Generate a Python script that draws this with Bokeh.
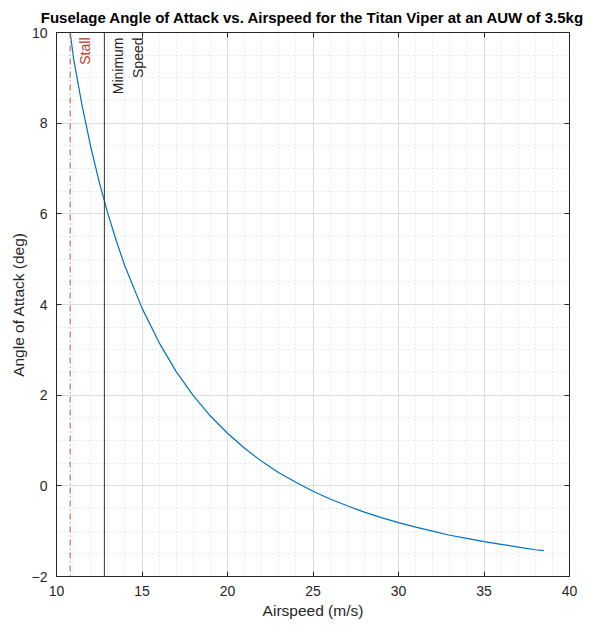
import math
from bokeh.plotting import figure
from bokeh.models import (Range1d, FixedTicker, LinearAxis, Label, Span, Title)
from bokeh.embed import file_html
from bokeh.resources import INLINE

# ---- data ----
airspeed = [10.8, 11.0, 11.5, 12.0, 12.5, 13.0, 13.5, 14.0, 15.0, 16.0, 17.0, 18.0,
            19.0, 20.0, 21.0, 22.0, 23.0, 24.0, 25.0, 26.0, 27.0, 28.0, 29.0, 30.0,
            31.0, 32.0, 33.0, 34.0, 35.0, 36.0, 37.0, 38.0, 38.5]
aoa = [10.0, 9.42, 8.38, 7.48, 6.70, 6.01, 5.40, 4.85, 3.92, 3.16, 2.52, 1.99,
       1.54, 1.16, 0.83, 0.54, 0.29, 0.08, -0.12, -0.29, -0.44, -0.58, -0.70, -0.81,
       -0.91, -1.00, -1.09, -1.16, -1.23, -1.29, -1.35, -1.41, -1.43]
stall_speed = 10.8
min_speed = 12.8
x_ticks = [10, 15, 20, 25, 30, 35, 40]
y_ticks = [-2, 0, 2, 4, 6, 8, 10]

FONT = "Liberation Sans"
TXT = "#262626"

p = figure(width=613, height=626, output_backend="svg", toolbar_location=None,
           x_range=Range1d(10, 40), y_range=Range1d(-2, 10),
           min_border_left=56, min_border_right=44, min_border_top=31,
           min_border_bottom=50)
p.title = Title(text="Fuselage Angle of Attack vs. Airspeed for the Titan Viper at an AUW of 3.5kg",
                text_font=FONT, text_font_size="15px", text_font_style="bold",
                text_color="#000000", align="center", standoff=13)
p.outline_line_color = TXT
p.outline_line_width = 1
p.background_fill_color = "white"
p.border_fill_color = "white"

for ax in (p.xaxis[0], p.yaxis[0]):
    ax.major_label_text_font = FONT
    ax.major_label_text_font_size = "14px"
    ax.major_label_text_color = TXT
    ax.axis_label_text_font = FONT
    ax.axis_label_text_font_size = "15.5px"
    ax.axis_label_text_font_style = "normal"
    ax.axis_label_text_color = TXT
    ax.axis_line_color = TXT
    ax.major_tick_line_color = TXT
    ax.major_tick_in = 5
    ax.major_tick_out = 0
    ax.minor_tick_line_color = None

p.xaxis[0].ticker = FixedTicker(ticks=x_ticks, minor_ticks=list(range(10, 41)))
p.yaxis[0].ticker = FixedTicker(ticks=y_ticks, minor_ticks=[-2 + 0.5 * i for i in range(25)])
p.xaxis[0].axis_label = "Airspeed (m/s)"
p.yaxis[0].axis_label = "Angle of Attack (deg)"
p.xaxis[0].major_label_standoff = 5
p.yaxis[0].major_label_standoff = 5
p.xaxis[0].axis_label_standoff = 3
p.yaxis[0].axis_label_standoff = 2

# mirror axes (box on), ticks only
top_ax = LinearAxis(ticker=FixedTicker(ticks=x_ticks), major_label_overrides={t: "" for t in x_ticks},
                    major_tick_in=5, major_tick_out=0, minor_tick_line_color=None,
                    axis_line_color=TXT, major_tick_line_color=TXT, major_label_standoff=0)
right_ax = LinearAxis(ticker=FixedTicker(ticks=y_ticks), major_label_overrides={t: "" for t in y_ticks},
                      major_tick_in=5, major_tick_out=0, minor_tick_line_color=None,
                      axis_line_color=TXT, major_tick_line_color=TXT, major_label_standoff=0)
p.add_layout(top_ax, "above")
p.add_layout(right_ax, "right")

# grids
for g in (p.xgrid[0], p.ygrid[0]):
    g.grid_line_color = "#dedede"
    g.grid_line_width = 1
    g.minor_grid_line_color = "#d6d6d6"
    g.minor_grid_line_dash = "1 3"
    g.minor_grid_line_width = 1

# curve
p.line(airspeed, aoa, line_color="#0072BD", line_width=1.2)

# vertical reference lines
p.add_layout(Span(location=stall_speed, dimension="height", line_color="#B5524A",
                  line_dash="6 3 1 3", line_width=1))
p.add_layout(Span(location=min_speed, dimension="height", line_color="#333333",
                  line_width=1))

p.add_layout(Label(x=stall_speed, y=10, x_offset=7, y_offset=-5, text="Stall",
                   angle=math.pi / 2, text_align="right", text_baseline="top",
                   text_font=FONT, text_font_size="14px", text_color="#C0392B"))
p.add_layout(Label(x=min_speed, y=10, x_offset=6, y_offset=-5, text="Minimum\nSpeed",
                   angle=math.pi / 2, text_align="right", text_baseline="top",
                   text_font=FONT, text_font_size="14px", text_color="#262626",
                   text_line_height=1.25))

open("out.html", "w").write(file_html(p, INLINE))
